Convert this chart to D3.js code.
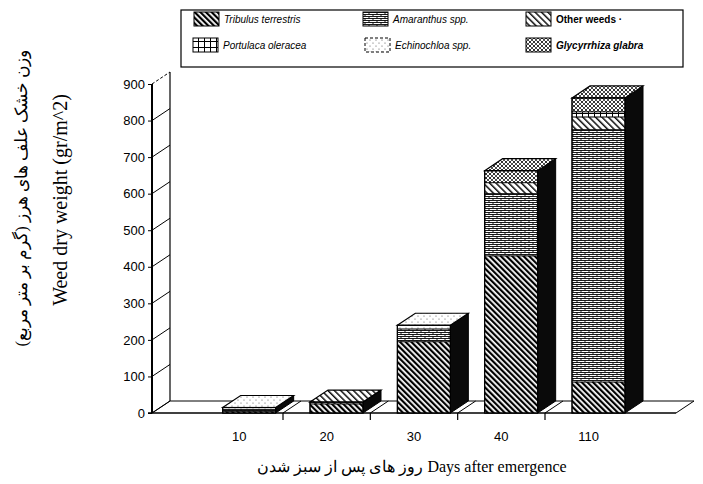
<!DOCTYPE html>
<html><head><meta charset="utf-8">
<script src="https://cdn.jsdelivr.net/npm/d3@7"></script>
<style>body{margin:0;background:#fff}svg{display:block}</style>
</head><body>
<svg id="c" width="703" height="484"></svg>
<script>
const categories = ["10","20","30","40","110"];
const seriesNames = ["Tribulus terrestris","Amaranthus spp.","Other weeds ·","Portulaca oleracea","Echinochloa spp.","Glycyrrhiza glabra"];
const tribulus    = [5, 25, 195, 430, 85];
const amaranthus  = [5, 0, 35, 170, 690];
const otherWeeds  = [0, 5, 0, 30, 35];
const portulaca   = [0, 0, 0, 0, 14];
const echinochloa = [5, 0, 10, 0, 0];
const glycyrrhiza = [0, 0, 0, 33, 38];
const yTicks = [0,100,200,300,400,500,600,700,800,900];

const seriesVals = [tribulus, amaranthus, otherWeeds, portulaca, echinochloa, glycyrrhiza];
const patIds = ["pTrib","pAmar","pOther","pPort","pEchin","pGlyc"];

const svg = d3.select("#c");
const defs = svg.append("defs");
function pat(id,w,h,tr){ const p=defs.append("pattern").attr("id",id).attr("patternUnits","userSpaceOnUse").attr("width",w).attr("height",h); if(tr)p.attr("patternTransform",tr); p.append("rect").attr("width",w).attr("height",h).attr("fill","#fff"); return p;}
let p;
p = pat("pTrib",4,4,"rotate(-45)"); p.append("rect").attr("width",2.2).attr("height",4).attr("fill","#000");
p = pat("pOther",4.5,4.5,"rotate(-45)"); p.append("rect").attr("width",1.5).attr("height",4.5).attr("fill","#111");
p = pat("pAmar",8,4);
p.append("path").attr("d","M0,0.5H8M0,2.5H8M1,0.5V2.5M5,2.5V4.5").attr("stroke","#000").attr("stroke-width",0.9).attr("fill","none");
p = pat("pPort",6,6); p.append("path").attr("d","M0.5,0V6M0,5.5H6").attr("stroke","#000").attr("stroke-width",1).attr("fill","none");
p = pat("pEchin",6,6); p.append("circle").attr("cx",1).attr("cy",1).attr("r",0.6).attr("fill","#555"); p.append("circle").attr("cx",4).attr("cy",4).attr("r",0.6).attr("fill","#555");
p = pat("pGlyc",4,4); p.append("path").attr("d","M0,0L4,4M4,0L0,4").attr("stroke","#222").attr("stroke-width",0.8);
p.append("circle").attr("cx",2).attr("cy",2).attr("r",0.7).attr("fill","#000");

const x0 = 152, x1 = 676;
const x = d3.scaleBand().domain(categories).range([x0,x1]).paddingInner(0).paddingOuter(0.5);
const y = d3.scaleLinear().domain([0,900]).range([413,84]);
const DX = 18, DY = -12;

const g = svg.append("g");
g.append("line").attr("x1",x0+DX).attr("x2",x0+DX).attr("y1",y(0)+DY).attr("y2",y(900)+DY).attr("stroke","#000").attr("stroke-width",1.2);
g.selectAll(".diag").data(yTicks).join("line")
  .attr("x1",x0).attr("y1",d=>y(d)).attr("x2",x0+DX).attr("y2",d=>y(d)+DY)
  .attr("stroke","#000").attr("stroke-width",1).attr("stroke-dasharray",d=>d===900?"3,2":null);
const floorBack = y(0)+DY;
g.append("path").attr("d",`M${x0},${y(0)}L${x0+DX},${floorBack}L${x1+DX},${floorBack}L${x1},${y(0)}`)
  .attr("fill","none").attr("stroke","#000").attr("stroke-width",1);
const bounds = categories.slice(1).map(c=>x(c));
g.selectAll(".fdiv").data(bounds).join("line")
  .attr("x1",d=>d).attr("y1",y(0)).attr("x2",d=>d+DX).attr("y2",floorBack).attr("stroke","#000").attr("stroke-width",1);
g.selectAll(".ftick").data(bounds).join("line")
  .attr("x1",d=>d).attr("x2",d=>d).attr("y1",y(0)).attr("y2",y(0)+7).attr("stroke","#000").attr("stroke-width",1.2);
g.append("line").attr("x1",x0-4).attr("x2",x1).attr("y1",y(0)).attr("y2",y(0)).attr("stroke","#000").attr("stroke-width",1.3);

const BW = 53, OFF = 27;
const barsG = svg.append("g");
categories.forEach((c,i)=>{
  const bx = x(c)+OFF;
  let acc = 0;
  const segs = [];
  seriesVals.forEach((vals,s)=>{ const v=vals[i]; if(v>0){ segs.push({s,y0:acc,y1:acc+v}); acc+=v; }});
  const bg = barsG.append("g");
  bg.append("path").attr("d",`M${bx+BW},${y(0)}L${bx+BW+DX},${y(0)+DY}L${bx+BW+DX},${y(acc)+DY}L${bx+BW},${y(acc)}Z`)
    .attr("fill","#0a0a0a").attr("stroke","#000").attr("stroke-width",1);
  bg.selectAll(".seg").data(segs).join("rect")
    .attr("x",bx).attr("width",BW).attr("y",d=>y(d.y1)).attr("height",d=>y(d.y0)-y(d.y1))
    .attr("fill",d=>`url(#${patIds[d.s]})`).attr("stroke","#000").attr("stroke-width",0.8);
  const top = segs[segs.length-1];
  bg.append("path").attr("d",`M${bx},${y(acc)}L${bx+DX},${y(acc)+DY}L${bx+BW+DX},${y(acc)+DY}L${bx+BW},${y(acc)}Z`)
    .attr("fill",`url(#${patIds[top.s]})`).attr("stroke","#000").attr("stroke-width",1.2);
  bg.append("rect").attr("x",bx).attr("y",y(acc)).attr("width",BW).attr("height",y(0)-y(acc)).attr("fill","none").attr("stroke","#000").attr("stroke-width",1.2);
});

svg.append("line").attr("x1",x0).attr("x2",x0).attr("y1",y(0)).attr("y2",y(900)).attr("stroke","#000").attr("stroke-width",2);
const yAxis = d3.axisLeft(y).tickValues(yTicks).tickSize(4).tickPadding(3).tickFormat(d3.format("d"));
const ya = svg.append("g").attr("transform",`translate(${x0},0)`).call(yAxis);
ya.select(".domain").remove();
ya.selectAll("text").attr("font-family","Liberation Sans, Arial, sans-serif").attr("font-size",13).attr("fill","#000");
ya.selectAll("line").attr("stroke","#000");

svg.selectAll(".xl").data(categories).join("text")
  .attr("x",d=>x(d)+x.bandwidth()/2).attr("y",441).attr("text-anchor","middle")
  .attr("font-family","Liberation Sans, Arial, sans-serif").attr("font-size",13).text(d=>d);

svg.append("text").attr("transform","translate(67,200) rotate(-90)").attr("text-anchor","middle")
  .attr("font-family","Liberation Serif, Times New Roman, serif").attr("font-size",20).text("Weed dry weight (gr/m^2)");
svg.append("text").attr("transform","translate(27,198) rotate(-90)").attr("text-anchor","middle")
  .attr("font-family","Liberation Serif, DejaVu Serif, serif").attr("font-size",16.5).text("وزن خشک علف های هرز (گرم بر متر مربع)");
svg.append("text").attr("x",412).attr("y",472).attr("text-anchor","middle")
  .attr("font-family","Liberation Serif, Times New Roman, serif").attr("font-size",16).text("روز های پس از سبز شدن Days after emergence");

const lg = svg.append("g");
lg.append("rect").attr("x",181).attr("y",10).attr("width",502).attr("height",57).attr("fill","#fff").attr("stroke","#000").attr("stroke-width",1.2);
const legPos = [[194,12],[363,12],[526,12],[193,38],[365,38],[526,38]];
[0,1,2,3,4,5].forEach((s,k)=>{
  const [lx,ly] = legPos[k];
  lg.append("rect").attr("x",lx).attr("y",ly).attr("width",25).attr("height",14)
    .attr("fill",`url(#${patIds[s]})`).attr("stroke","#000").attr("stroke-width",1)
    .attr("stroke-dasharray",s===4?"3,2":null);
  lg.append("text").attr("x",lx+30).attr("y",ly+11)
    .attr("font-family","Liberation Sans, Arial, sans-serif").attr("font-size",10)
    .attr("font-style",(s===2)?"normal":"italic").attr("font-weight",(s===2||s===5)?"bold":"normal")
    .text(seriesNames[s]);
});
</script>
</body></html>
